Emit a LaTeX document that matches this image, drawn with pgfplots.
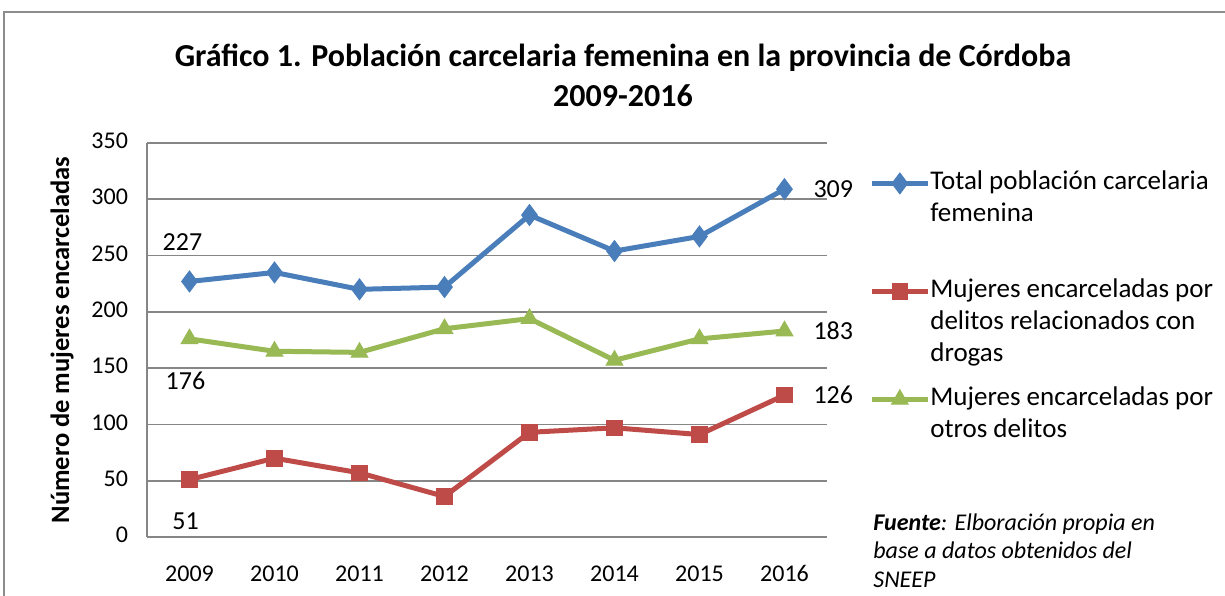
\documentclass[border=0pt]{standalone}
\usepackage{pgfplots}
\pgfplotsset{compat=1.18}
\usepackage{fontspec}
\setmainfont{Carlito}
\definecolor{sblue}{HTML}{4A7EBB}
\definecolor{sred}{HTML}{BE4B48}
\definecolor{sgreen}{HTML}{98B954}
\definecolor{gridgray}{HTML}{868686}
\definecolor{framegray}{HTML}{8C8C8C}

\pgfplotstableread{
x total drogas otros
0 227 51 176
1 235 70 165
2 220 57 164
3 222 36 185
4 286 93 194
5 254 97 157
6 267 91 176
7 309 126 183
}\datatable

\begin{document}
\begin{tikzpicture}
\useasboundingbox (0pt,0pt) rectangle (612.5pt,297.5pt);
\draw[framegray, line width=0.8pt] (2pt,-2pt) -- (2pt,291.5pt) -- (614pt,291.5pt);
\node[font=\bfseries\fontsize{16}{20}\selectfont, align=center] at (311.5pt,260pt) {Gráfico 1. Población carcelaria femenina en la provincia de Córdoba\\2009-2016};

\begin{axis}[
  at={(73.5pt,29pt)}, anchor=south west,
  scale only axis, width=340pt, height=197pt,
  xmin=-0.5, xmax=7.5, ymin=0, ymax=350,
  xtick={0,...,7}, xticklabels={2009,2010,2011,2012,2013,2014,2015,2016},
  ytick={0,50,...,350},
  /pgf/number format/assume math mode=true,
  typeset ticklabels with strut,
  axis x line*=bottom, axis y line*=left,
  axis line style={draw=gridgray, line width=0.9pt, -},
  ymajorgrids, grid style={draw=gridgray, line width=0.9pt},
  major tick length=0pt,
  tick label style={font=\fontsize{12}{14}\selectfont},
  yticklabel style={xshift=-6pt},
  xticklabel style={yshift=-9pt},
  every axis y label/.style={at={(axis description cs:-0.125,0.5)}, rotate=90, anchor=center, font=\bfseries\fontsize{13.25}{15}\selectfont},
  ylabel={Número de mujeres encarceladas},
  clip=false,
  legend style={at={(axis description cs:1.0617,0.94)}, anchor=north west, draw=none, fill=none, inner sep=0pt, row sep=0pt, column sep=0pt, font=\fontsize{13.5}{16}\selectfont, cells={anchor=base west}, nodes={inner sep=0pt, text height=11.2pt, text depth=42.8pt}},
  legend image code/.code={\draw[mark repeat=2,mark phase=2,#1] plot coordinates {(0pt,3pt) (14pt,3pt) (28pt,3pt)};},
]
\addplot[sblue, line width=2.5pt, mark=diamond*, mark size=5.2pt, mark options={solid, line width=0.5pt}] table[x=x,y=total] {\datatable};
\addlegendentry{\parbox[t]{170pt}{\raggedright Total población carcelaria\\femenina}}
\addplot[sred, line width=2.5pt, mark=square*, mark size=3.9pt, mark options={solid, line width=0.5pt}] table[x=x,y=drogas] {\datatable};
\addlegendentry{\parbox[t]{170pt}{\raggedright Mujeres encarceladas por\\delitos relacionados con\\drogas}}
\addplot[sgreen, line width=2.5pt, mark=triangle*, mark size=4.8pt, mark options={solid, line width=0.5pt}] table[x=x,y=otros] {\datatable};
\addlegendentry{\parbox[t]{170pt}{\raggedright Mujeres encarceladas por\\otros delitos}}

% data labels
\addplot[draw=none, forget plot, nodes near coords, point meta=explicit symbolic,
  nodes near coords style={anchor=center, yshift=19.5pt, xshift=-3.5pt, font=\fontsize{13}{15}\selectfont, text=black}]
  coordinates {(0,227) [227]};
\addplot[draw=none, forget plot, nodes near coords, point meta=explicit symbolic,
  nodes near coords style={anchor=center, yshift=-21pt, xshift=-2pt, font=\fontsize{13}{15}\selectfont, text=black}]
  coordinates {(0,176) [176] (0,51) [51]};
\addplot[draw=none, forget plot, nodes near coords, point meta=explicit symbolic,
  nodes near coords style={anchor=west, xshift=11pt, yshift=0pt, font=\fontsize{13}{15}\selectfont, text=black}]
  coordinates {(7,309) [309] (7,183) [183] (7,126) [126]};
\end{axis}

\node[anchor=base west, font=\fontsize{12}{14}\selectfont\itshape, inner sep=0pt] at (436.5pt,32.5pt) {\textbf{Fuente}: Elboración propia en};
\node[anchor=base west, font=\fontsize{12}{14}\selectfont\itshape, inner sep=0pt] at (436.5pt,18.3pt) {base a datos obtenidos del};
\node[anchor=base west, font=\fontsize{12}{14}\selectfont\itshape, inner sep=0pt] at (436.5pt,4pt) {SNEEP};
\end{tikzpicture}
\end{document}
